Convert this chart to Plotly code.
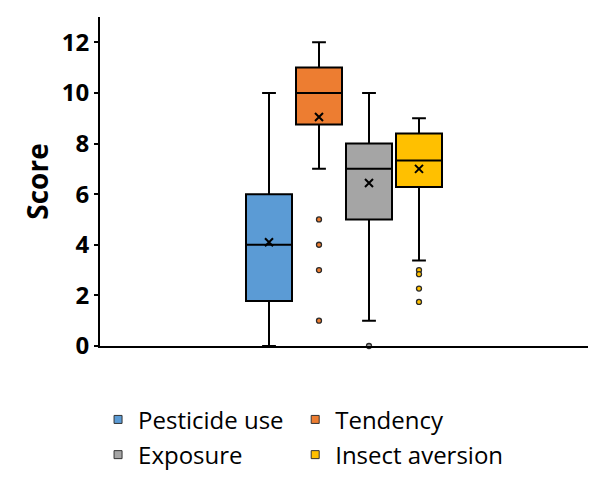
import plotly.graph_objects as go

categories = ["Pesticide use", "Tendency", "Exposure", "Insect aversion"]
q1 = [1.78, 8.75, 5.0, 6.28]
median = [4.0, 10.0, 7.0, 7.33]
q3 = [6.0, 11.0, 8.0, 8.4]
lower_whisker = [0.0, 7.0, 1.0, 3.38]
upper_whisker = [10.0, 12.0, 10.0, 9.0]
means = [4.1, 9.05, 6.44, 7.0]
outliers = [[], [5.0, 4.0, 3.0, 1.0], [0.0], [3.0, 2.84, 2.27, 1.74]]
y_ticks = [0, 2, 4, 6, 8, 10, 12]

colors = ["#5B9BD5", "#ED7D31", "#A5A5A5", "#FFC000"]
FONT = "Open Sans"

# legend grid: 2 columns x 2 rows
legend_ids = ["legend", "legend2", "legend3", "legend4"]
col_x = [-0.004, 0.4]
row_y = [-0.156, -0.263]

fig = go.Figure()
for i, name in enumerate(categories):
    fig.add_trace(go.Box(
        x=[i], q1=[q1[i]], median=[median[i]], q3=[q3[i]],
        lowerfence=[lower_whisker[i]], upperfence=[upper_whisker[i]],
        width=0.92, whiskerwidth=0.3,
        fillcolor=colors[i], line=dict(color="black", width=2),
        name=name, showlegend=False, hoverinfo="skip",
    ))
    fig.add_trace(go.Scatter(
        x=[i], y=[means[i]], mode="markers",
        marker=dict(symbol="x-thin", size=8, line=dict(color="black", width=2)),
        showlegend=False, hoverinfo="skip",
    ))
    if outliers[i]:
        fig.add_trace(go.Scatter(
            x=[i] * len(outliers[i]), y=outliers[i], mode="markers",
            marker=dict(symbol="circle", size=5, color=colors[i],
                        line=dict(color="#2b2b2b", width=1.3)),
            showlegend=False, hoverinfo="skip", cliponaxis=False,
        ))
    # legend entry
    fig.add_trace(go.Scatter(
        x=[None], y=[None], mode="markers", name=name, legend=legend_ids[i],
        marker=dict(symbol="square", size=8, color=colors[i],
                    line=dict(color="#333333", width=1)),
    ))

legends = {}
for i, lid in enumerate(legend_ids):
    legends[lid] = dict(
        orientation="h", x=col_x[i % 2], xanchor="left",
        y=row_y[i // 2], yanchor="top",
        font=dict(size=24, family=FONT, color="black"),
        itemsizing="trace", bgcolor="rgba(0,0,0,0)",
    )

fig.update_layout(
    width=589, height=481,
    margin=dict(l=100, r=1, t=17, b=135),
    paper_bgcolor="white", plot_bgcolor="white",
    font=dict(family=FONT, color="black"),
    showlegend=True,
    **legends,
    xaxis=dict(
        range=[-3.38, 6.38], showticklabels=False, ticks="",
        showgrid=False, zeroline=False, showline=True,
        linecolor="black", linewidth=2, automargin=False,
    ),
    yaxis=dict(
        range=[0, 13], tickvals=y_ticks, ticks="outside", ticklen=4,
        tickwidth=1.5, tickcolor="black",
        tickfont=dict(size=24, family=FONT, color="black", weight="bold"),
        showgrid=False, zeroline=False, showline=True,
        linecolor="black", linewidth=2, automargin=False,
        title=dict(text="<b>Score</b>", font=dict(size=28, family=FONT), standoff=5),
    ),
)

fig.write_html("out.html", config={"displayModeBar": False},
               post_script="document.body.style.margin='0px';")
